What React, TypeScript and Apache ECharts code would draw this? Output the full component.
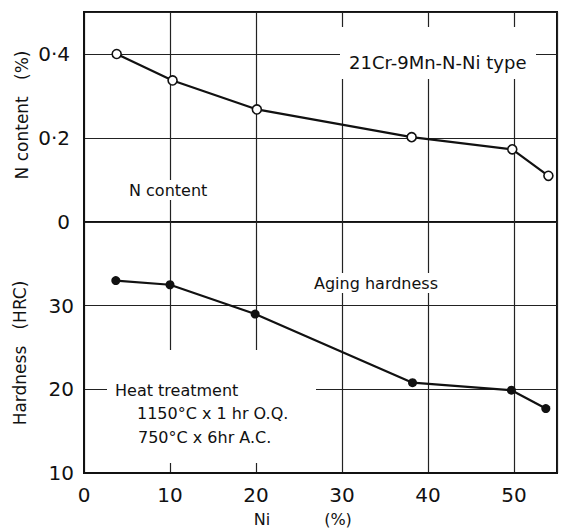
import React, { useEffect, useRef } from "react";
import * as echarts from "echarts";

const niForN = [3.8, 10.3, 20.1, 38.1, 49.8, 54.0];
const nContent = [0.4, 0.337, 0.268, 0.202, 0.173, 0.11];
const niForH = [3.7, 10.0, 19.9, 38.2, 49.7, 53.7];
const hardness = [33.0, 32.5, 29.0, 20.8, 19.9, 17.7];
const nTickLabels: Record<string, string> = { "0": "0", "0.2": "0·2", "0.4": "0·4" };
const hTickLabels = [10, 20, 30];
const xTickLabels = [0, 10, 20, 30, 40, 50];

const FONT = "DejaVu Sans";
const INK = "#111";

export default function App() {
  const ref = useRef<HTMLDivElement>(null);
  useEffect(() => {
    if (!ref.current) return;
    const chart = echarts.init(ref.current, undefined, { renderer: "svg" });
    const grid = { color: "#222", width: 1.2 };
    const txt = (text: string, x: number, y: number, extra: any = {}) => ({
      type: "text",
      x,
      y,
      z: 5,
      style: {
        text,
        fill: INK,
        font: `16px "${FONT}"`,
        verticalAlign: "middle",
        align: "left",
        ...extra,
      },
    });
    chart.setOption({
      animation: false,
      backgroundColor: "#fff",
      grid: [
        { left: 84, top: 12, width: 473, height: 210, show: true, borderColor: INK, borderWidth: 2 },
        { left: 84, top: 222, width: 473, height: 251, show: true, borderColor: INK, borderWidth: 2 },
      ],
      xAxis: [
        {
          gridIndex: 0, type: "value", min: 0, max: 55, interval: 10,
          axisLine: { show: false }, axisTick: { show: false }, axisLabel: { show: false },
          splitLine: { show: true, lineStyle: grid },
        },
        {
          gridIndex: 1, type: "value", min: 0, max: 55, interval: 10,
          axisLine: { show: true, lineStyle: { color: INK, width: 2 } },
          axisTick: { show: false },
          axisLabel: {
            show: true, fontSize: 20, color: INK, fontFamily: FONT, margin: 12,
            formatter: (v: number) => (xTickLabels.includes(v) ? String(v) : ""),
          },
          splitLine: { show: true, lineStyle: grid },
        },
      ],
      yAxis: [
        {
          gridIndex: 0, type: "value", min: 0, max: 0.5, interval: 0.2,
          axisLine: { show: true, lineStyle: { color: INK, width: 2 } },
          axisTick: { show: false },
          axisLabel: {
            fontSize: 20, color: INK, fontFamily: FONT, margin: 14,
            formatter: (v: number) => nTickLabels[String(Math.round(v * 10) / 10)] ?? "",
          },
          splitLine: { show: true, lineStyle: grid },
        },
        {
          gridIndex: 1, type: "value", min: 10, max: 40, interval: 10,
          axisLine: { show: true, lineStyle: { color: INK, width: 2 } },
          axisTick: { show: false },
          axisLabel: {
            fontSize: 20, color: INK, fontFamily: FONT, margin: 10,
            formatter: (v: number) => (hTickLabels.includes(v) ? String(v) : ""),
          },
          splitLine: { show: true, lineStyle: grid },
        },
      ],
      series: [
        {
          type: "line", xAxisIndex: 0, yAxisIndex: 0, z: 3,
          data: niForN.map((x, i) => [x, nContent[i]]),
          symbol: "circle", symbolSize: 9,
          lineStyle: { color: INK, width: 2.2 },
          itemStyle: { color: "#fff", borderColor: INK, borderWidth: 1.6 },
        },
        {
          type: "line", xAxisIndex: 1, yAxisIndex: 1, z: 3,
          data: niForH.map((x, i) => [x, hardness[i]]),
          symbol: "circle", symbolSize: 9,
          lineStyle: { color: INK, width: 2.2 },
          itemStyle: { color: INK },
        },
      ],
      graphic: [
        { type: "rect", z: 1, shape: { x: 340, y: 27, width: 196, height: 52 }, style: { fill: "#fff" } },
        { type: "rect", z: 1, shape: { x: 107, y: 350, width: 209, height: 113 }, style: { fill: "#fff" } },
        txt("21Cr-9Mn-N-Ni type", 349, 62, { font: `18px "${FONT}"` }),
        txt("N content", 127, 190, { backgroundColor: "#fff", padding: [2, 2] }),
        txt("Aging hardness", 312, 283, { backgroundColor: "#fff", padding: [2, 2] }),
        txt("Heat treatment", 115, 390),
        txt("1150°C x 1 hr O.Q.", 137, 413),
        txt("750°C x 6hr A.C.", 138, 437),
        { ...txt("N content   (%)", 22, 115, { align: "center", font: `17px "${FONT}"` }), rotation: Math.PI / 2 },
        { ...txt("Hardness   (HRC)", 20, 353, { align: "center", font: `17px "${FONT}"` }), rotation: Math.PI / 2 },
        txt("Ni", 262, 519, { align: "center" }),
        txt("(%)", 338, 519, { align: "center" }),
      ],
    });
    return () => chart.dispose();
  }, []);
  return (
    <div
      ref={ref}
      style={{ position: "fixed", left: 0, top: 0, width: 561, height: 532, background: "#fff" }}
    />
  );
}
